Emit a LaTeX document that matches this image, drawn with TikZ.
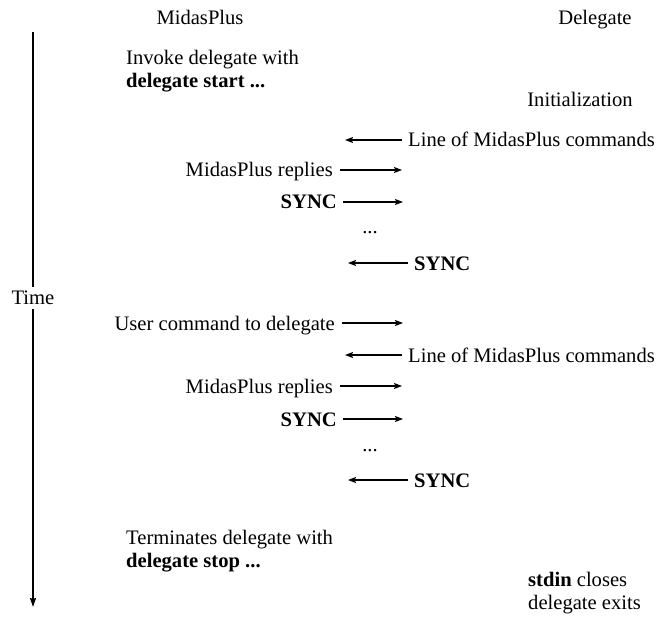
\documentclass[tikz,border=0pt]{standalone}
\usepackage{fontspec}
\setmainfont{Liberation Serif}
\usetikzlibrary{arrows.meta}
\begin{document}
\begin{tikzpicture}[x=1pt,y=-1pt,
  txt/.style={inner sep=0pt, font=\fontsize{20.6}{23}\selectfont},
  msg/.style={-{Stealth[length=8pt,width=6pt,inset=1.5pt]}, line width=1.3pt},
  timeline/.style={line width=1.6pt}]
\useasboundingbox (0,0) rectangle (660,617);
% headers
\node[txt, anchor=base] (hm) at (200,25) {MidasPlus};
\node[txt, anchor=base] (hd) at (595,25) {Delegate};
% time axis
\coordinate (ttop) at (33,32);
\coordinate (tbot) at (33,607);
\node[txt, anchor=base] (time) at (33,304) {Time};
\draw[timeline] (ttop) -- ([yshift=3pt]time.north);
\draw[timeline, -{Stealth[length=9pt,width=6pt,inset=1pt]}] ([yshift=-5pt]time.south) -- (tbot);
% invoke
\node[txt, anchor=north west, align=left] (inv) at (126,50) {Invoke delegate with\\\textbf{delegate start ...}};
\node[txt, anchor=base] (init) at (580,107) {Initialization};
% block 1
\node[txt, anchor=base west] (l1) at (408,147) {Line of MidasPlus commands};
\coordinate (l1e) at (345,140);
\draw[msg] ([xshift=-6pt,yshift=7pt]l1.base west) -- (l1e);
\node[txt, anchor=base east] (r1) at (333,177) {MidasPlus replies};
\coordinate (r1e) at (402,170);
\draw[msg] ([xshift=7pt,yshift=7pt]r1.base east) -- (r1e);
\node[txt, anchor=base east] (s1) at (337,209) {\textbf{SYNC}};
\coordinate (s1e) at (403,202);
\draw[msg] ([xshift=6pt,yshift=7pt]s1.base east) -- (s1e);
\node[txt, anchor=base] (d1) at (370,234) {...};
\node[txt, anchor=base west] (t1) at (414,270) {\textbf{SYNC}};
\coordinate (t1e) at (348,263);
\draw[msg] ([xshift=-6pt,yshift=7pt]t1.base west) -- (t1e);
% block 2
\node[txt, anchor=base east] (u2) at (335,330) {User command to delegate};
\coordinate (u2e) at (403,323);
\draw[msg] ([xshift=7pt,yshift=7pt]u2.base east) -- (u2e);
\node[txt, anchor=base west] (l2) at (408,362) {Line of MidasPlus commands};
\coordinate (l2e) at (345,355);
\draw[msg] ([xshift=-6pt,yshift=7pt]l2.base west) -- (l2e);
\node[txt, anchor=base east] (r2) at (333,393) {MidasPlus replies};
\coordinate (r2e) at (402,386);
\draw[msg] ([xshift=7pt,yshift=7pt]r2.base east) -- (r2e);
\node[txt, anchor=base east] (s2) at (337,426) {\textbf{SYNC}};
\coordinate (s2e) at (403,419);
\draw[msg] ([xshift=6pt,yshift=7pt]s2.base east) -- (s2e);
\node[txt, anchor=base] (d2) at (370,451) {...};
\node[txt, anchor=base west] (t2) at (414,487) {\textbf{SYNC}};
\coordinate (t2e) at (348,480);
\draw[msg] ([xshift=-6pt,yshift=7pt]t2.base west) -- (t2e);
% terminate
\node[txt, anchor=north west, align=left] (term) at (126,530) {Terminates delegate with\\\textbf{delegate stop ...}};
\node[txt, anchor=north west, align=left] (stdin) at (528,572) {\textbf{stdin} closes\\delegate exits};
\end{tikzpicture}
\end{document}
